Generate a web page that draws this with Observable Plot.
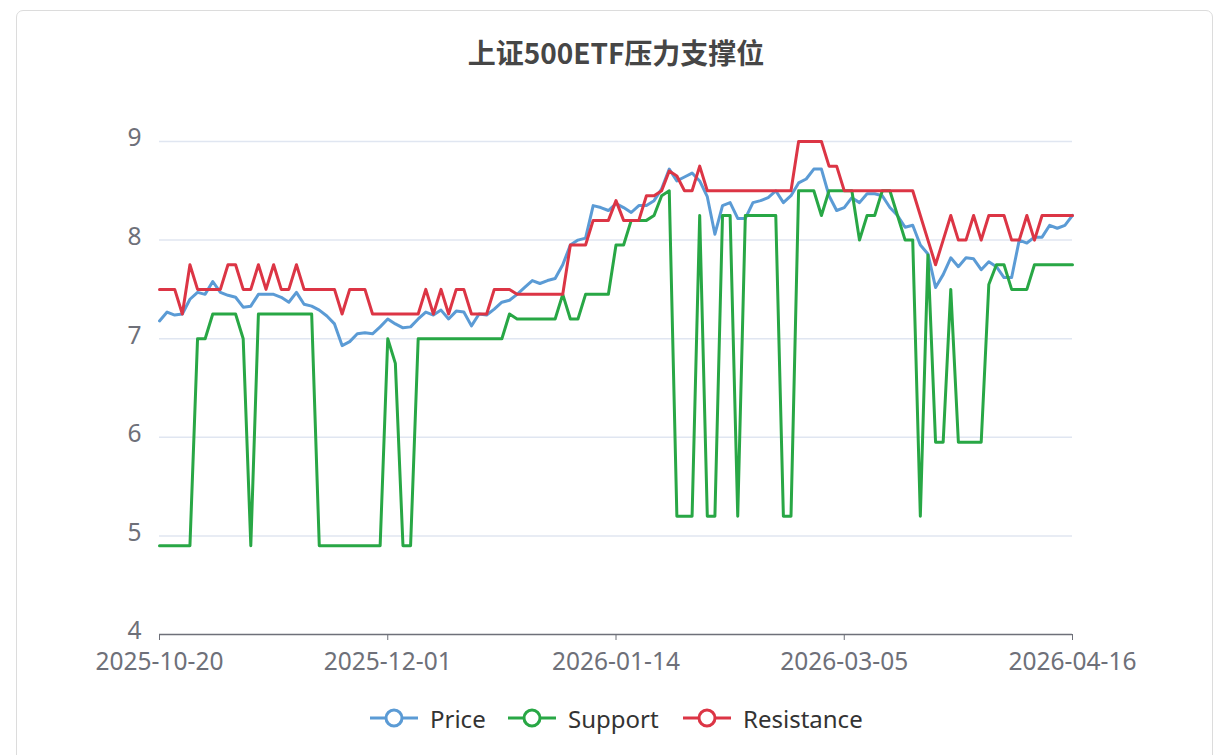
<!DOCTYPE html>
<html>
<head>
<meta charset="utf-8">
<script src="https://cdn.jsdelivr.net/npm/d3@7"></script>
<script src="https://cdn.jsdelivr.net/npm/@observablehq/plot@0.6"></script>
<style>
  body { margin: 0; background: #fff; }
  #wrap { position: relative; width: 1223px; height: 755px; overflow: hidden; background: #fff; }
  #card { position: absolute; left: 16px; top: 10px; width: 1197px; height: 780px; border: 1.5px solid #dcdcdc; border-radius: 7px; box-sizing: border-box; }
  #title { position: absolute; left: 16px; width: 1200px; top: 34px; text-align: center; font-family: "Noto Sans CJK SC", sans-serif; font-weight: bold; font-size: 28px; line-height: 36px; color: #464646; }
  #chart { position: absolute; left: 0; top: 0; }
  .lg { position: absolute; top: 704px; height: 28px; display: flex; align-items: center; font-family: "Noto Sans", sans-serif; font-size: 24px; color: #333; }
  .lg svg { margin-right: 12px; }
</style>
</head>
<body>
<div id="wrap">
  <div id="card"></div>
  <div id="title"></div>
  <div id="chart"></div>
  <div id="legend"></div>
</div>
<script>
// ---- data ----
const title = "上证500ETF压力支撑位";
const tickIndex = [0, 30, 60, 90, 120];
const tickLabels = ["2025-10-20", "2025-12-01", "2026-01-14", "2026-03-05", "2026-04-16"];
const yTicks = [4, 5, 6, 7, 8, 9];
const seriesNames = ["Price", "Support", "Resistance"];
const seriesColors = ["#5b9bd5", "#28a745", "#dc3545"];

const price = [
  7.18,7.27,7.24,7.25,7.40,7.47,7.45,7.58,7.47,7.44,
  7.42,7.32,7.33,7.45,7.45,7.45,7.42,7.37,7.47,7.35,
  7.33,7.29,7.23,7.15,6.93,6.97,7.05,7.06,7.05,7.12,
  7.20,7.15,7.11,7.12,7.20,7.27,7.24,7.29,7.20,7.28,
  7.27,7.13,7.25,7.24,7.30,7.37,7.39,7.45,7.52,7.59,
  7.56,7.59,7.61,7.75,7.95,8.00,8.02,8.35,8.33,8.30,
  8.37,8.33,8.28,8.35,8.35,8.40,8.52,8.72,8.60,8.64,
  8.68,8.60,8.44,8.06,8.35,8.38,8.22,8.22,8.38,8.40,
  8.43,8.50,8.38,8.45,8.58,8.62,8.72,8.72,8.45,8.30,
  8.33,8.43,8.38,8.47,8.47,8.45,8.33,8.25,8.13,8.15,
  7.95,7.86,7.52,7.65,7.82,7.73,7.82,7.81,7.70,7.78,
  7.73,7.62,7.62,8.00,7.97,8.03,8.03,8.15,8.12,8.15,
  8.25
];
const support = [
  4.9,4.9,4.9,4.9,4.9,7.0,7.0,7.25,7.25,7.25,
  7.25,7.0,4.9,7.25,7.25,7.25,7.25,7.25,7.25,7.25,
  7.25,4.9,4.9,4.9,4.9,4.9,4.9,4.9,4.9,4.9,
  7.0,6.75,4.9,4.9,7.0,7.0,7.0,7.0,7.0,7.0,
  7.0,7.0,7.0,7.0,7.0,7.0,7.25,7.2,7.2,7.2,
  7.2,7.2,7.2,7.45,7.2,7.2,7.45,7.45,7.45,7.45,
  7.95,7.95,8.2,8.2,8.2,8.25,8.45,8.5,5.2,5.2,
  5.2,8.25,5.2,5.2,8.25,8.25,5.2,8.25,8.25,8.25,
  8.25,8.25,5.2,5.2,8.5,8.5,8.5,8.25,8.5,8.5,
  8.5,8.5,8.0,8.25,8.25,8.5,8.5,8.25,8.0,8.0,
  5.2,7.85,5.95,5.95,7.5,5.95,5.95,5.95,5.95,7.55,
  7.75,7.75,7.5,7.5,7.5,7.75,7.75,7.75,7.75,7.75,
  7.75
];
const resistance = [
  7.5,7.5,7.5,7.25,7.75,7.5,7.5,7.5,7.5,7.75,
  7.75,7.5,7.5,7.75,7.5,7.75,7.5,7.5,7.75,7.5,
  7.5,7.5,7.5,7.5,7.25,7.5,7.5,7.5,7.25,7.25,
  7.25,7.25,7.25,7.25,7.25,7.5,7.25,7.5,7.25,7.5,
  7.5,7.25,7.25,7.25,7.5,7.5,7.5,7.45,7.45,7.45,
  7.45,7.45,7.45,7.45,7.95,7.95,7.95,8.2,8.2,8.2,
  8.4,8.2,8.2,8.2,8.45,8.45,8.5,8.7,8.65,8.5,
  8.5,8.75,8.5,8.5,8.5,8.5,8.5,8.5,8.5,8.5,
  8.5,8.5,8.5,8.5,9.0,9.0,9.0,9.0,8.75,8.75,
  8.5,8.5,8.5,8.5,8.5,8.5,8.5,8.5,8.5,8.5,
  8.25,8.0,7.75,8.0,8.25,8.0,8.0,8.25,8.0,8.25,
  8.25,8.25,8.0,8.0,8.25,8.0,8.25,8.25,8.25,8.25,
  8.25
];

// ---- table for Plot ----
const rows = price.map((p, i) => ({ i, price: p, support: support[i], resistance: resistance[i] }));
const fmt = v => tickLabels[tickIndex.indexOf(v)] ?? "";

document.getElementById("title").textContent = title;

const chart = Plot.plot({
  width: 1223,
  height: 690,
  marginLeft: 159,
  marginRight: 151,
  marginTop: 141,
  marginBottom: 56,
  style: { fontFamily: "'Noto Sans', sans-serif", fontSize: "24.5px", color: "#6e7079", background: "transparent", overflow: "visible" },
  x: { type: "linear", domain: [0, 120], label: null },
  y: { domain: [4, 9], label: null },
  marks: [
    Plot.gridY([5, 6, 7, 8, 9], { stroke: "#e0e6f1", strokeOpacity: 1, strokeWidth: 1.5 }),
    Plot.axisY({ ticks: yTicks, tickFormat: d => String(d), tickSize: 0, tickPadding: 18, dy: -3, label: null, fill: "#6e7079" }),
    Plot.axisX({ ticks: tickIndex, tickFormat: fmt, tickSize: 6, tickPadding: 12, label: null, stroke: "#6e7079", fill: "#6e7079" }),
    Plot.ruleY([4], { stroke: "#6e7079", strokeWidth: 1.5 }),
    Plot.line(rows, { x: "i", y: "price", stroke: seriesColors[0], strokeWidth: 3 }),
    Plot.line(rows, { x: "i", y: "support", stroke: seriesColors[1], strokeWidth: 3 }),
    Plot.line(rows, { x: "i", y: "resistance", stroke: seriesColors[2], strokeWidth: 3 })
  ]
});
document.getElementById("chart").appendChild(chart);

// ---- legend ----
const legendLeft = [370, 508, 683];
const legend = document.getElementById("legend");
seriesNames.forEach((name, k) => {
  const item = document.createElement("div");
  item.className = "lg";
  item.style.left = legendLeft[k] + "px";
  item.innerHTML =
    `<svg width="48" height="22" viewBox="0 0 48 22">` +
    `<line x1="0" y1="11" x2="48" y2="11" stroke="${seriesColors[k]}" stroke-width="3"/>` +
    `<circle cx="24" cy="11" r="8" fill="#fff" stroke="${seriesColors[k]}" stroke-width="3"/>` +
    `</svg><span>${name}</span>`;
  legend.appendChild(item);
});
</script>
</body>
</html>
